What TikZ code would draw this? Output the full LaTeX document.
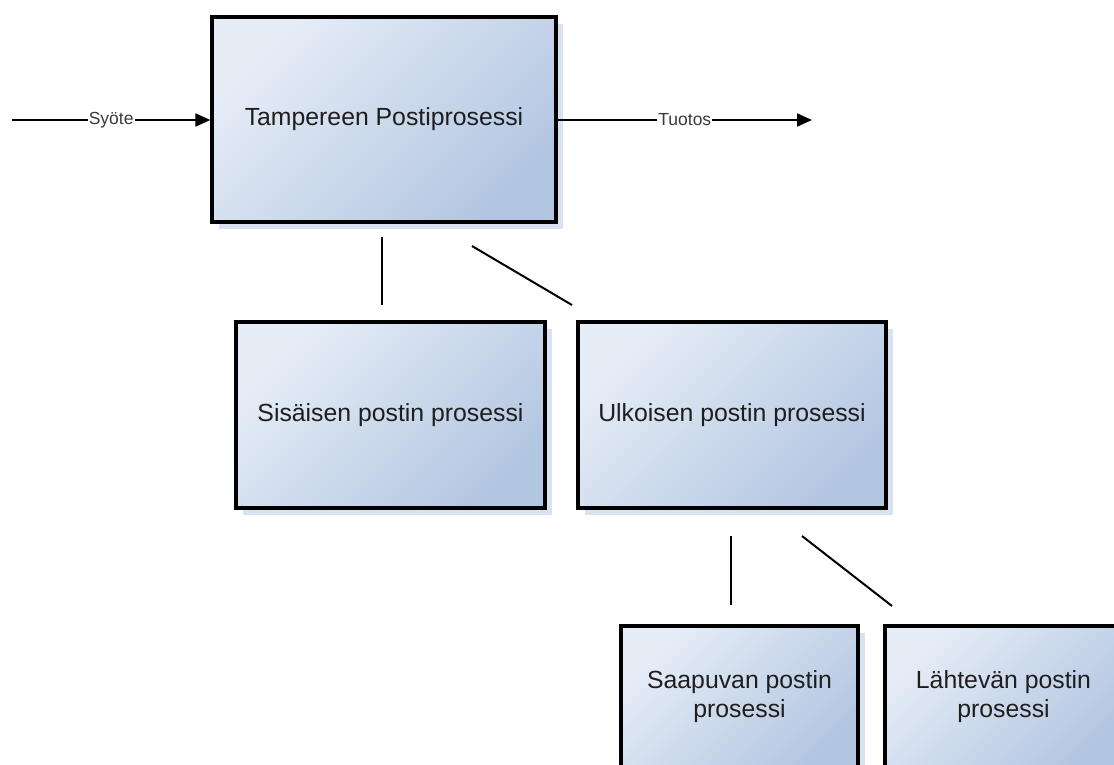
\documentclass[tikz,border=0pt]{standalone}
\usepackage{fontspec}
\setmainfont{Liberation Sans}
\usetikzlibrary{arrows.meta,shadows}

\definecolor{boxlight}{HTML}{E6EDF7}
\definecolor{boxdark}{HTML}{B3C6E1}
\definecolor{shadowc}{HTML}{D8E2F0}
\definecolor{labelc}{HTML}{3A3A3A}
\definecolor{textc}{HTML}{1E1E1E}

\tikzset{
  procbox/.style={rectangle, draw=black, line width=3.2pt, inner sep=0pt,
    top color=boxlight, bottom color=boxdark, shading angle=45,
    drop shadow={shadow xshift=7pt, shadow yshift=-7pt, fill=shadowc, opacity=1},
    text=textc, font=\fontsize{24.8}{29}\selectfont, align=center},
  link/.style={line width=2pt, black},
  flow/.style={line width=2pt, black, -{Triangle[length=15pt,width=13pt]}},
  flowlabel/.style={fill=white, inner sep=1pt, text=labelc,
    font=\fontsize{17.5}{20}\selectfont},
}

\begin{document}
\begin{tikzpicture}[x=1pt,y=-1pt]
  \useasboundingbox (0,0) rectangle (1114,764);
  \clip (0,0) rectangle (1114,764);

  % process boxes
  \node[procbox, minimum width=344pt, minimum height=205pt] (main) at (384,119.5) {Tampereen Postiprosessi};
  \node[procbox, minimum width=309pt, minimum height=186pt] (internal) at (390.5,415) {Sisäisen postin prosessi};
  \node[procbox, minimum width=308pt, minimum height=186pt] (external) at (732,415) {Ulkoisen postin prosessi};
  \node[procbox, minimum width=237pt, minimum height=142pt] (incoming) at (739.5,697) {Saapuvan postin\\prosessi};
  \node[procbox, minimum width=237pt, minimum height=142pt] (outgoing) at (1003.5,697) {Lähtevän postin\\prosessi};

  % input and output flows
  \coordinate (in) at (12,120);
  \coordinate (out) at (812,120);
  \draw[flow] (in) -- node[flowlabel]{Syöte} (in -| main.west);
  \draw[flow] (out -| main.east) -- node[flowlabel]{Tuotos} (out);

  % decomposition links
  \coordinate (l1a) at (382,237);  \coordinate (l1b) at (382,305);
  \coordinate (l2a) at (472,246);  \coordinate (l2b) at (572,305);
  \coordinate (l3a) at (731,536);  \coordinate (l3b) at (731,605);
  \coordinate (l4a) at (802,536);  \coordinate (l4b) at (892,606);
  \draw[link] (l1a) -- (l1b);
  \draw[link] (l2a) -- (l2b);
  \draw[link] (l3a) -- (l3b);
  \draw[link] (l4a) -- (l4b);
\end{tikzpicture}
\end{document}
